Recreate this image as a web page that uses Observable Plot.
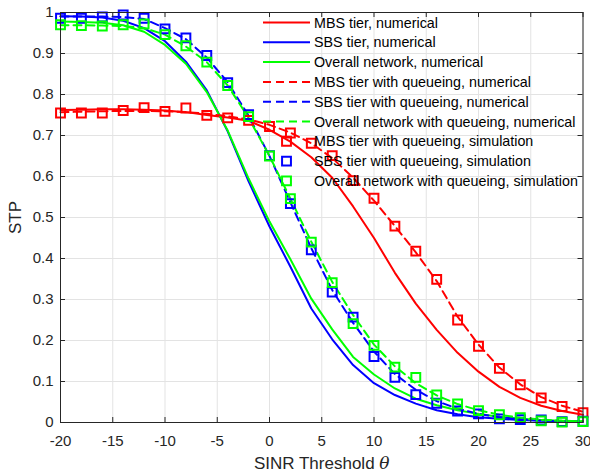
<!DOCTYPE html>
<html><head><meta charset="utf-8">
<script src="https://cdn.jsdelivr.net/npm/d3@7"></script>
<script src="https://cdn.jsdelivr.net/npm/@observablehq/plot@0.6"></script>
<style>
body{margin:0;background:#fff;}
#chart{position:relative;width:590px;height:473px;font-family:"Liberation Sans",Arial,sans-serif;}
#legend{position:absolute;left:0;top:0;pointer-events:none;}
</style></head><body><div id="chart"></div>
<script>
// SINR threshold (dB) sample points
const theta = [-20,-18,-16,-14,-12,-10,-8,-6,-4,-2,0,2,4,6,8,10,12,14,16,18,20,22,24,26,28,30];
const xTicks = [-20,-15,-10,-5,0,5,10,15,20,25,30];
const yTicks = [0,0.1,0.2,0.3,0.4,0.5,0.6,0.7,0.8,0.9,1];

// numerical (solid)
const mbsNum = [0.762,0.763,0.764,0.764,0.763,0.761,0.757,0.750,0.744,0.736,0.714,0.685,0.647,0.597,0.527,0.450,0.365,0.290,0.226,0.170,0.124,0.087,0.060,0.041,0.028,0.019];
const sbsNum = [0.991,0.990,0.988,0.980,0.962,0.930,0.880,0.810,0.710,0.588,0.478,0.380,0.278,0.203,0.140,0.096,0.067,0.046,0.030,0.020,0.013,0.009,0.006,0.004,0.002,0.001];
const allNum = [0.978,0.977,0.975,0.969,0.953,0.921,0.875,0.806,0.712,0.595,0.490,0.398,0.302,0.227,0.160,0.117,0.083,0.058,0.042,0.030,0.021,0.014,0.009,0.006,0.004,0.003];
// with queueing, numerical (dashed)
const mbsQ = [0.757,0.758,0.759,0.760,0.760,0.759,0.757,0.753,0.747,0.739,0.726,0.707,0.681,0.645,0.597,0.541,0.479,0.415,0.345,0.258,0.190,0.134,0.093,0.062,0.041,0.026];
const sbsQ = [0.990,0.990,0.990,0.989,0.984,0.962,0.935,0.890,0.830,0.748,0.650,0.537,0.425,0.323,0.243,0.173,0.118,0.080,0.052,0.034,0.021,0.013,0.008,0.005,0.003,0.002];
const allQ = [0.969,0.969,0.968,0.967,0.962,0.946,0.917,0.879,0.822,0.743,0.650,0.546,0.441,0.343,0.262,0.190,0.137,0.096,0.066,0.045,0.030,0.019,0.012,0.007,0.004,0.003];
// with queueing, simulation (squares)
const mbsSim = [0.755,0.755,0.755,0.761,0.768,0.759,0.767,0.749,0.743,0.737,0.722,0.706,0.681,0.651,0.590,0.547,0.479,0.418,0.349,0.250,0.186,0.132,0.092,0.060,0.039,0.024];
const sbsSim = [0.986,0.986,0.989,0.994,0.986,0.960,0.938,0.895,0.829,0.751,0.651,0.534,0.421,0.318,0.257,0.161,0.110,0.068,0.047,0.028,0.021,0.009,0.007,0.006,0.002,0.003];
const allSim = [0.970,0.968,0.967,0.970,0.972,0.946,0.919,0.879,0.822,0.746,0.650,0.546,0.440,0.341,0.241,0.188,0.135,0.110,0.067,0.045,0.029,0.019,0.012,0.004,0.001,0.002];

const RED = "#ff0000", BLUE = "#0000ff", GREEN = "#00ff00";
const series = [
  {name: "MBS tier, numerical", values: mbsNum, color: RED, kind: "solid"},
  {name: "SBS tier, numerical", values: sbsNum, color: BLUE, kind: "solid"},
  {name: "Overall network, numerical", values: allNum, color: GREEN, kind: "solid"},
  {name: "MBS tier with queueing, numerical", values: mbsQ, color: RED, kind: "dash"},
  {name: "SBS tier with queueing, numerical", values: sbsQ, color: BLUE, kind: "dash"},
  {name: "Overall network with queueing, numerical", values: allQ, color: GREEN, kind: "dash"},
  {name: "MBS tier with queueing, simulation", values: mbsSim, color: RED, kind: "marker"},
  {name: "SBS tier with queueing, simulation", values: sbsSim, color: BLUE, kind: "marker"},
  {name: "Overall network with queueing, simulation", values: allSim, color: GREEN, kind: "marker"}
];
const DASH = "8,5";

const W = 590, H = 473, ML = 60, MR = 7.5, MT = 12, MB = 51;
const innerW = W - ML - MR, innerH = H - MT - MB;
const AX = "#262626";

const marks = [
  Plot.gridX(xTicks, {stroke: "#e3e3e3", strokeOpacity: 1, strokeWidth: 1}),
  Plot.gridY(yTicks, {stroke: "#e3e3e3", strokeOpacity: 1, strokeWidth: 1}),
];
for (const s of series) {
  const data = theta.map((x, i) => ({x, y: s.values[i]}));
  if (s.kind === "marker") {
    marks.push(Plot.dot(data, {x: "x", y: "y", symbol: "square", r: 5, stroke: s.color, strokeWidth: 2, fill: "none"}));
  } else {
    marks.push(Plot.line(data, {x: "x", y: "y", stroke: s.color, strokeWidth: 2, strokeDasharray: s.kind === "dash" ? DASH : null, strokeLinejoin: "round"}));
  }
}
marks.push(
  Plot.frame({stroke: AX, strokeWidth: 1}),
  Plot.tickX(xTicks, {x: d => d, insetTop: innerH - 5, stroke: AX}),
  Plot.tickX(xTicks, {x: d => d, insetBottom: innerH - 5, stroke: AX}),
  Plot.tickY(yTicks, {y: d => d, insetRight: innerW - 5, stroke: AX}),
  Plot.tickY(yTicks, {y: d => d, insetLeft: innerW - 5, stroke: AX}),
  Plot.axisX(xTicks, {tickSize: 0, tickPadding: 13, fontSize: 15, tickFormat: d => String(d), color: AX,
    label: "SINR Threshold θ", labelAnchor: "center", labelArrow: "none", labelOffset: 46}),
  Plot.axisY(yTicks, {tickSize: 0, tickPadding: 7, fontSize: 15, tickFormat: d => String(d), color: AX,
    label: "STP", labelAnchor: "center", labelArrow: "none", labelOffset: 52})
);

const svg = Plot.plot({
  width: W, height: H,
  marginLeft: ML, marginRight: MR, marginTop: MT, marginBottom: MB,
  style: {fontFamily: '"Liberation Sans", Arial, sans-serif', background: "#fff", color: AX},
  x: {domain: [-20, 30]},
  y: {domain: [0, 1]},
  marks
});
const chart = document.getElementById("chart");
chart.appendChild(svg);

// axis labels: font size and italic theta
const xl = d3.select(svg).select('g[aria-label="x-axis label"]');
xl.attr("font-size", 17).attr("fill", AX);
xl.selectAll("text").each(function() {
  const t = d3.select(this);
  t.text("SINR Threshold ");
  t.append("tspan").attr("font-style", "italic").attr("font-family", '"DejaVu Serif", serif').text("θ");
});
d3.select(svg).select('g[aria-label="y-axis label"]').attr("font-size", 17).attr("fill", AX);

// legend overlay (no box, transparent)
const leg = d3.select(chart).append("svg").attr("id", "legend").attr("width", W).attr("height", H);
const x0 = 263, x1 = 310, xm = 286.5, tx = 314, y0 = 22.5, dy = 19.8;
series.forEach((s, i) => {
  const y = y0 + i * dy;
  if (s.kind === "marker") {
    leg.append("path").attr("d", d3.symbol(d3.symbolSquare, Math.PI * 25)()).attr("transform", `translate(${xm},${y})`)
      .attr("fill", "none").attr("stroke", s.color).attr("stroke-width", 2);
  } else {
    leg.append("line").attr("x1", x0).attr("x2", x1).attr("y1", y).attr("y2", y)
      .attr("stroke", s.color).attr("stroke-width", 2).attr("stroke-dasharray", s.kind === "dash" ? DASH : null);
  }
  leg.append("text").attr("x", tx).attr("y", y).attr("dy", "0.35em").attr("font-size", 14.3)
    .attr("font-family", '"Liberation Sans", Arial, sans-serif').attr("fill", "#000").text(s.name);
});
</script></body></html>
